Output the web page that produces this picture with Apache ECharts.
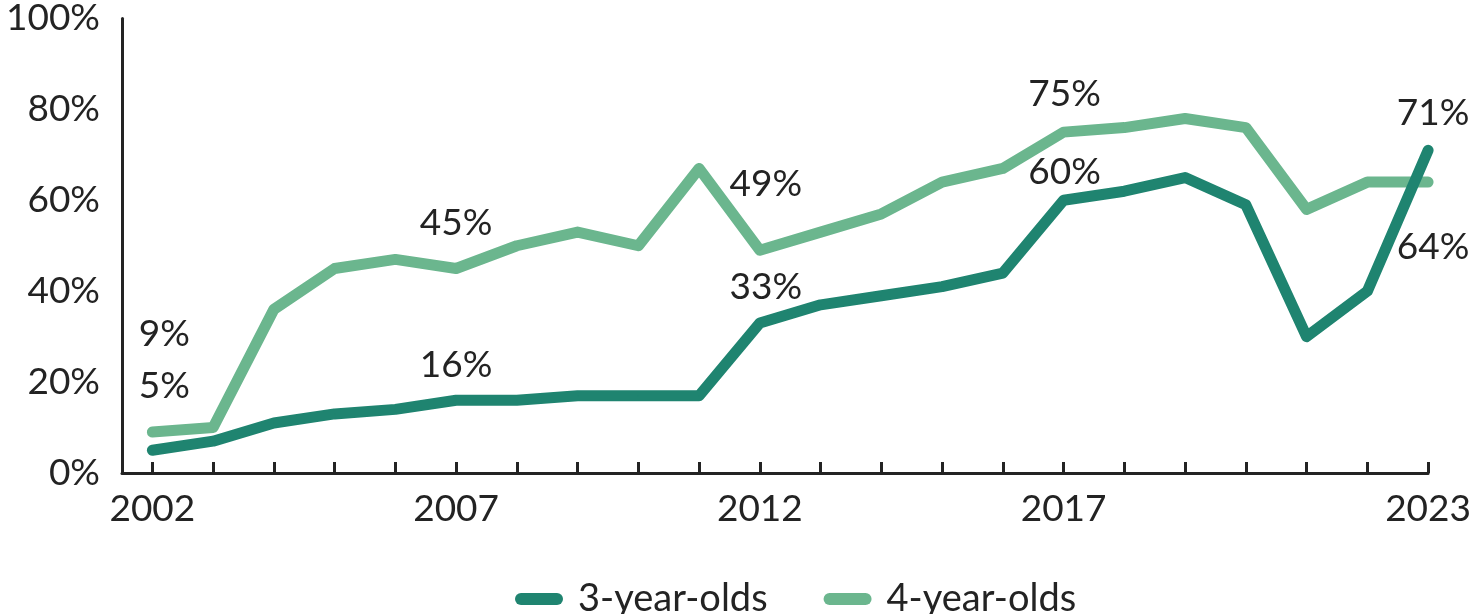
<!DOCTYPE html>
<html>
<head>
<meta charset="utf-8">
<title>Enrollment</title>
<script src="https://cdn.jsdelivr.net/npm/echarts@6/dist/echarts.min.js"></script>
<style>
    html, body { margin: 0; padding: 0; background: #fff; }
    #container { width: 1474px; height: 614px; }
</style>
</head>
<body>
<div id="container"></div>
<script>
// data
var years = [2002, 2003, 2004, 2005, 2006, 2007, 2008, 2009, 2010, 2011, 2012,
    2013, 2014, 2015, 2016, 2017, 2018, 2019, 2020, 2021, 2022, 2023];
var threeYearOlds = [5, 7, 11, 13, 14, 16, 16, 17, 17, 17, 33,
    37, 39, 41, 44, 60, 62, 65, 59, 30, 40, 71];
var fourYearOlds = [9, 10, 36, 45, 47, 45, 50, 53, 50, 67, 49,
    53, 57, 64, 67, 75, 76, 78, 76, 58, 64, 64];
var labelYears = [2002, 2007, 2012, 2017, 2023];
var yTicks = [0, 20, 40, 60, 80, 100];

// where each value label sits relative to its point [dx, dy]
var threeLabelOffsets = { 2002: [12, -64], 2007: [0, -35], 2012: [6, -36], 2017: [1, -28], 2023: [5, -37] };
var fourLabelOffsets = { 2002: [12, -98], 2007: [0, -45], 2012: [6, -66], 2017: [1, -38], 2023: [5, 65] };

var DARK = '#1f8470';
var LIGHT = '#6bb68e';
var TEXT = '#232323';
var FONT = 'Lato';

var chart = echarts.init(document.getElementById('container'));

/**
 * build [year, value] points, labelled years get a text label
 */
function buildPoints(values, offsets) {
    return years.map(function (year, i) {
        var point = { value: [year, values[i]] };
        if (offsets[year]) {
            point.label = {
                show: true,
                position: 'inside',
                offset: offsets[year],
                formatter: values[i] + '%'
            };
        }
        return point;
    });
}

function lineSeries(name, color, values, offsets) {
    return {
        name: name,
        type: 'line',
        data: buildPoints(values, offsets),
        symbol: 'circle',
        symbolSize: 1,
        showAllSymbol: true,
        itemStyle: { color: color },
        lineStyle: { color: color, width: 11, cap: 'round', join: 'round' },
        label: {
            show: false,
            color: TEXT,
            fontFamily: FONT,
            fontSize: 37
        },
        emphasis: { disabled: true }
    };
}

var legendIcon = 'path://M6,0 H42 A6,6 0 0 1 42,12 H6 A6,6 0 0 1 6,0 Z';

var option = {
    animation: false,
    grid: { left: 122, right: 40, top: 15, bottom: 141 },
    legend: {
        data: [
            { name: '3-year-olds', icon: legendIcon },
            { name: '4-year-olds', icon: legendIcon }
        ],
        left: 510,
        top: 575,
        itemWidth: 48,
        itemHeight: 12,
        itemGap: 56,
        textStyle: {
            color: TEXT,
            fontFamily: FONT,
            fontSize: 38,
            padding: [0, 0, 0, 10]
        }
    },
    xAxis: {
        type: 'value',
        min: 2001.5,
        max: 2023,
        splitLine: { show: false },
        axisLine: { show: true, lineStyle: { color: TEXT, width: 3 } },
        axisTick: {
            show: true,
            inside: true,
            length: 11,
            customValues: years,
            lineStyle: { color: TEXT, width: 3 }
        },
        axisLabel: {
            customValues: labelYears,
            formatter: function (v) { return String(v); },
            color: TEXT,
            fontFamily: FONT,
            fontSize: 37,
            margin: 18
        }
    },
    yAxis: {
        type: 'value',
        min: 0,
        max: 100,
        interval: 20,
        splitLine: { show: false },
        axisLine: { show: true, lineStyle: { color: TEXT, width: 3 } },
        axisTick: { show: false },
        axisLabel: {
            customValues: yTicks,
            formatter: '{value}%',
            color: TEXT,
            fontFamily: FONT,
            fontSize: 37,
            margin: 22
        }
    },
    series: [
        lineSeries('4-year-olds', LIGHT, fourYearOlds, fourLabelOffsets),
        lineSeries('3-year-olds', DARK, threeYearOlds, threeLabelOffsets)
    ]
};

chart.setOption(option);
</script>
</body>
</html>
